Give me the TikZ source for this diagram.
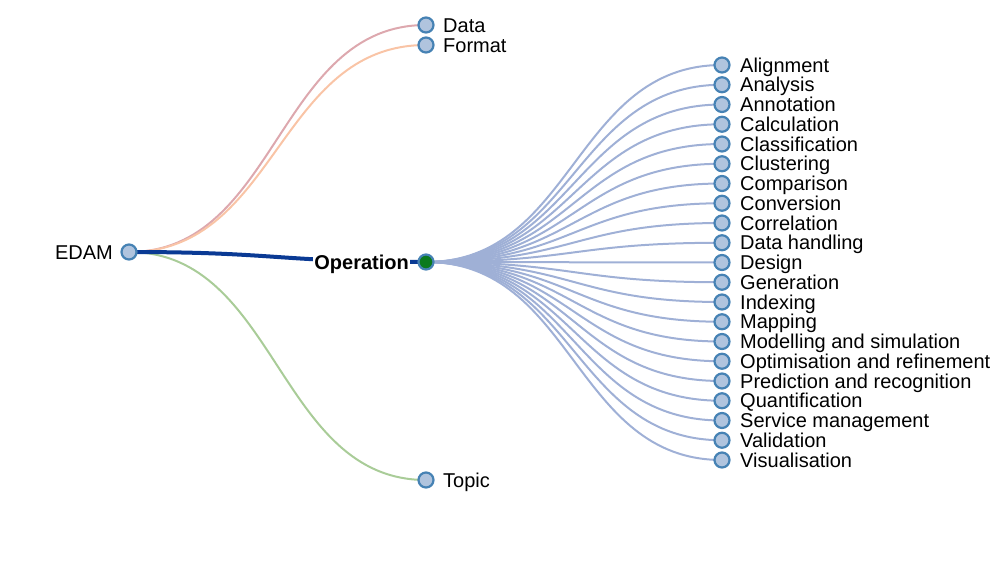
\documentclass[tikz,border=0pt]{standalone}
\usepackage{fontspec}
\setmainfont{Liberation Sans}
\begin{document}
\begin{tikzpicture}[x=1pt,y=-1pt,
  tnode/.style={circle,draw=nodestroke,fill=nodefill,line width=2.2pt,minimum size=15pt,inner sep=0pt},
  lab/.style={anchor=base west,inner sep=0pt,font=\fontsize{20}{22}\selectfont},
  lnk/.style={line width=2pt}]
\definecolor{nodestroke}{HTML}{4682B4}
\definecolor{nodefill}{HTML}{B0C4DE}
\definecolor{opgreen}{HTML}{0B7A1E}
\definecolor{datalink}{HTML}{DDA8AE}
\definecolor{formatlink}{HTML}{F9C4A6}
\definecolor{topiclink}{HTML}{A9CC98}
\definecolor{childlink}{HTML}{9FB0D6}
\definecolor{oplink}{HTML}{0A3A94}
\useasboundingbox (0,0) rectangle (1003,574);
% coordinates
\coordinate (edamc) at (129,252);
\coordinate (datac) at (426,25);
\coordinate (formatc) at (426,45);
\coordinate (opc) at (426,262);
\coordinate (topicc) at (426,480);
\def\names{Alignment,Analysis,Annotation,Calculation,Classification,Clustering,Comparison,Conversion,Correlation,Data handling,Design,Generation,Indexing,Mapping,Modelling and simulation,Optimisation and refinement,Prediction and recognition,Quantification,Service management,Validation,Visualisation}
\foreach \n [count=\i from 0] in \names {
  \coordinate (ch\i) at (722,{65+19.75*\i});
}
% links
\draw[lnk,datalink] (edamc) .. controls (277.5,252) and (277.5,25) .. (datac);
\draw[lnk,formatlink] (edamc) .. controls (277.5,252) and (277.5,45) .. (formatc);
\draw[lnk,topiclink] (edamc) .. controls (277.5,252) and (277.5,480) .. (topicc);
\foreach \i in {0,...,20} {
  \draw[lnk,childlink] (opc) .. controls (574,262) and (574,{65+19.75*\i}) .. (ch\i);
}
\draw[oplink,line width=4pt] (edamc) .. controls (277.5,252) and (277.5,262) .. (opc);
% nodes
\node[tnode] (edam) at (edamc) {};
\node[tnode] (data) at (datac) {};
\node[tnode] (format) at (formatc) {};
\node[tnode,fill=opgreen] (op) at (opc) {};
\node[tnode] (topic) at (topicc) {};
\foreach \n [count=\i from 0] in \names {
  \node[tnode] (n\i) at (ch\i) {};
  \node[lab] (t\i) at (740,{65+19.75*\i+7}) {\n};
}
% labels
\node[lab,anchor=base east] (edamlab) at (113,259) {EDAM};
\node[lab] (datalab) at (443,32) {Data};
\node[lab] (formatlab) at (443,52) {Format};
\node[lab] (topiclab) at (443,487) {Topic};
\node[anchor=base east,inner sep=1pt,fill=white,font=\fontsize{20}{22}\selectfont\bfseries] (oplab) at (410,269) {Operation};
\end{tikzpicture}
\end{document}
